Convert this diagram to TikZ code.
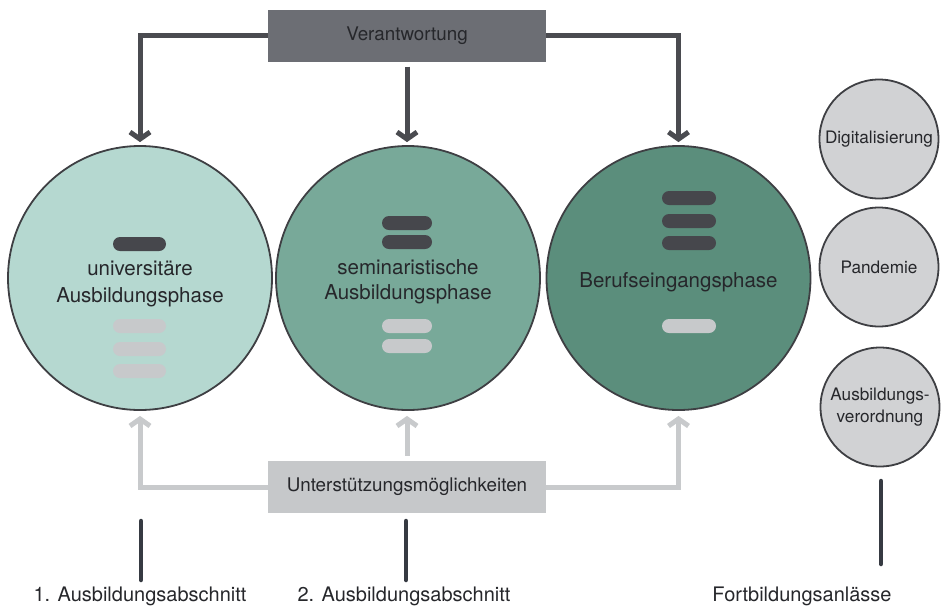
\documentclass[tikz,border=0pt]{standalone}
\usepackage{fontspec}
\setmainfont{TeX Gyre Heros}
\usetikzlibrary{arrows.meta}

\definecolor{ink}{HTML}{26272B}
\definecolor{boxdark}{HTML}{6C6E74}
\definecolor{linedark}{HTML}{4A4B50}
\definecolor{boxlight}{HTML}{C6C8CA}
\definecolor{linelight}{HTML}{C8CACC}
\definecolor{phaseA}{HTML}{B5D8D0}
\definecolor{phaseB}{HTML}{78A999}
\definecolor{phaseC}{HTML}{5B8E7C}
\definecolor{rim}{HTML}{3E3F43}
\definecolor{occasion}{HTML}{D1D2D4}
\definecolor{pilldark}{HTML}{46474C}
\definecolor{pilllight}{HTML}{C7C9CB}
\definecolor{stemcol}{HTML}{363A42}

\begin{document}
\begin{tikzpicture}[x=1pt,y=-1pt,
  phase/.style={circle, draw=rim, line width=1.8pt, minimum size=264pt, inner sep=0pt},
  occ/.style={circle, draw=rim, fill=occasion, line width=1.8pt, minimum size=119pt,
    inner sep=0pt, align=center, text=ink, font=\fontsize{17.2}{22}\selectfont},
  hbox/.style={rectangle, minimum width=278pt, minimum height=52pt, inner sep=0pt,
    font=\fontsize{18.8}{22}\selectfont},
  pill/.style={rectangle, rounded corners=7pt, minimum width=53pt, minimum height=14pt, inner sep=0pt},
  ptext/.style={anchor=base, text=ink, inner sep=0pt, font=\fontsize{20.5}{24}\selectfont},
  lab/.style={anchor=base, text=ink, inner sep=0pt, font=\fontsize{20}{24}\selectfont},
  darr/.style={draw=linedark, line width=5pt, -{Straight Barb[length=7pt,width=20pt]}},
  larr/.style={draw=linelight, line width=5pt, -{Straight Barb[length=7pt,width=20pt]}},
  stemline/.style={draw=stemcol, line width=4.5pt, line cap=round}
]
\useasboundingbox (0,0) rectangle (943,606);

% phases
\node[phase, fill=phaseA] (c1) at (140,278) {};
\node[phase, fill=phaseB] (c2) at (408,278) {};
\node[phase, fill=phaseC] (c3) at (678.5,278) {};

% phase names
\node[ptext] (t1a) at (140,275) {universitäre};
\node[ptext] (t1b) at (140,302) {Ausbildungsphase};
\node[ptext] (t2a) at (408,274) {seminaristische};
\node[ptext] (t2b) at (408,299) {Ausbildungsphase};
\node[ptext] (t3a) at (678.5,287) {Berufseingangsphase};

% responsibility / support bars
\node[pill, fill=pilldark]  (p1a) at (139.5,244) {};
\node[pill, fill=pilllight] (p1b) at (139.5,326) {};
\node[pill, fill=pilllight] (p1c) at (139.5,349) {};
\node[pill, fill=pilllight] (p1d) at (139.5,371) {};

\node[pill, fill=pilldark, minimum width=50pt]  (p2a) at (407,223) {};
\node[pill, fill=pilldark, minimum width=50pt]  (p2b) at (407,242) {};
\node[pill, fill=pilllight, minimum width=50pt] (p2c) at (407,326) {};
\node[pill, fill=pilllight, minimum width=50pt] (p2d) at (407,346) {};

\node[pill, fill=pilldark, minimum width=54pt]  (p3a) at (689,198) {};
\node[pill, fill=pilldark, minimum width=54pt]  (p3b) at (689,221) {};
\node[pill, fill=pilldark, minimum width=54pt]  (p3c) at (689,243) {};
\node[pill, fill=pilllight, minimum width=54pt] (p3d) at (689,326) {};

% occasions for further training
\node[occ] (o1) at (879,139) {Digitalisierung};
\node[occ] (o2) at (879,267) {Pandemie};
\node[occ] (o3) at (880,407) {Ausbildungs-\\verordnung};

% top and bottom boxes
\node[hbox, fill=boxdark, text=ink] (vt) at (407,35.5) {Verantwortung};
\node[hbox, fill=boxlight, text=ink] (ut) at (407,487) {Unterstützungsmöglichkeiten};

% responsibility arrows
\draw[darr] (vt.west) -| ([yshift=3pt]c1.north);
\draw[darr] ([yshift=-5pt]vt.south) -- ([yshift=3pt]vt.south |- c2.north);
\draw[darr] (vt.east) -| ([yshift=3pt]c3.north);

% support arrows
\draw[larr] (ut.west) -| ([yshift=-5pt]c1.south);
\draw[larr] ([yshift=5pt]ut.north) -- ([yshift=-5pt]ut.north |- c2.south);
\draw[larr] (ut.east) -| ([yshift=-5pt]c3.south);

% section labels with their stems
\node[lab] (l1) at (140,601) {1. Ausbildungsabschnitt};
\node[lab] (l2) at (404,601) {2. Ausbildungsabschnitt};
\node[lab] (l3) at (802,601) {Fortbildungsanlässe};

\coordinate (s1) at (141,521);
\coordinate (s2) at (406,521);
\coordinate (s3) at (881,481);
\coordinate (e1) at (141,580);
\coordinate (e2) at (406,580);
\coordinate (e3) at (881,564);
\draw[stemline] (s1) -- (e1);
\draw[stemline] (s2) -- (e2);
\draw[stemline] (s3) -- (e3);
\end{tikzpicture}
\end{document}
